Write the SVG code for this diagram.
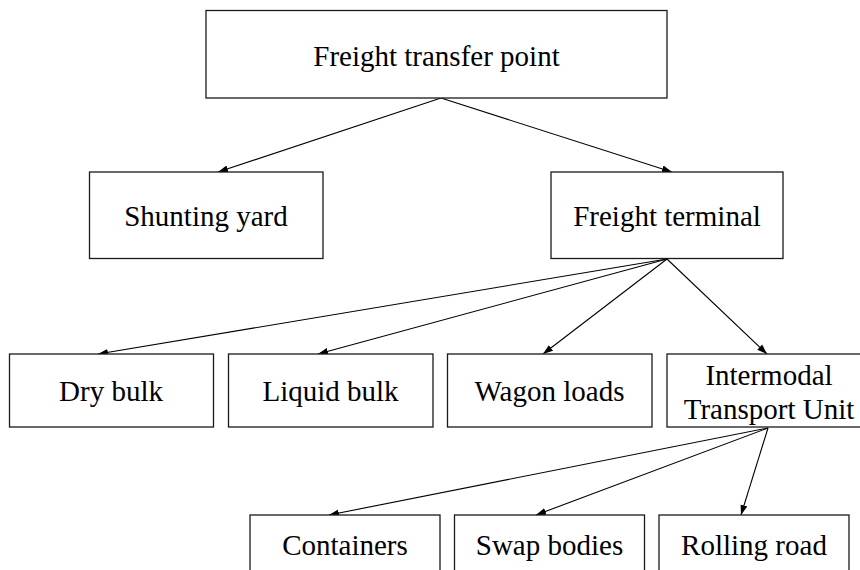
<svg xmlns="http://www.w3.org/2000/svg" width="860" height="570" viewBox="0 0 860 570">
<style>
.box{fill:#fff;stroke:#1a1a1a;stroke-width:1.3}
.lbl{font-family:"Liberation Serif","Times New Roman",serif;font-size:29px;fill:#000;text-anchor:middle}
.edge{stroke:#000;stroke-width:1.1;fill:none;marker-end:url(#ah)}
</style>
<defs>
<marker id="ah" markerUnits="userSpaceOnUse" markerWidth="12" markerHeight="10" refX="10" refY="0" viewBox="0 -5 12 10" orient="auto">
<path d="M0,-3.5 L10,0 L0,3.5 z" fill="#000"/>
</marker>
</defs>
<rect width="860" height="570" fill="#fff"/>
<g id="connectors">
<line class="edge" x1="441" y1="98" x2="218" y2="172"/>
<line class="edge" x1="441" y1="98" x2="672" y2="172"/>
<line class="edge" x1="667" y1="259" x2="98" y2="354"/>
<line class="edge" x1="667" y1="259" x2="318" y2="354"/>
<line class="edge" x1="667" y1="259" x2="543" y2="354"/>
<line class="edge" x1="667" y1="259" x2="767" y2="354"/>
<line class="edge" x1="768" y1="428" x2="329" y2="515"/>
<line class="edge" x1="768" y1="428" x2="536" y2="515"/>
<line class="edge" x1="768" y1="428" x2="741" y2="515"/>
</g>
<g id="freight-transfer-point">
<rect class="box" x="206" y="10.5" width="461" height="87.5"/>
<text class="lbl" x="436.5" y="66">Freight transfer point</text>
</g>
<g id="shunting-yard">
<rect class="box" x="89.5" y="172" width="233.5" height="86.5"/>
<text class="lbl" x="206" y="225.5">Shunting yard</text>
</g>
<g id="freight-terminal">
<rect class="box" x="551" y="172" width="232" height="86.5"/>
<text class="lbl" x="667" y="225.5">Freight terminal</text>
</g>
<g id="dry-bulk">
<rect class="box" x="9.5" y="354" width="204" height="73"/>
<text class="lbl" x="111" y="401">Dry bulk</text>
</g>
<g id="liquid-bulk">
<rect class="box" x="228.5" y="354" width="204.5" height="73"/>
<text class="lbl" x="330.5" y="401">Liquid bulk</text>
</g>
<g id="wagon-loads">
<rect class="box" x="447.5" y="354" width="204.5" height="73"/>
<text class="lbl" x="549.5" y="401">Wagon loads</text>
</g>
<g id="intermodal-transport-unit">
<rect class="box" x="667" y="354" width="204" height="73"/>
<text class="lbl" x="769" y="385">Intermodal</text>
<text class="lbl" x="769" y="419">Transport Unit</text>
</g>
<g id="containers">
<rect class="box" x="250" y="515" width="190" height="62"/>
<text class="lbl" x="345" y="555">Containers</text>
</g>
<g id="swap-bodies">
<rect class="box" x="454.5" y="515" width="190" height="62"/>
<text class="lbl" x="549.5" y="555">Swap bodies</text>
</g>
<g id="rolling-road">
<rect class="box" x="659" y="515" width="190" height="62"/>
<text class="lbl" x="754" y="555">Rolling road</text>
</g>
</svg>
